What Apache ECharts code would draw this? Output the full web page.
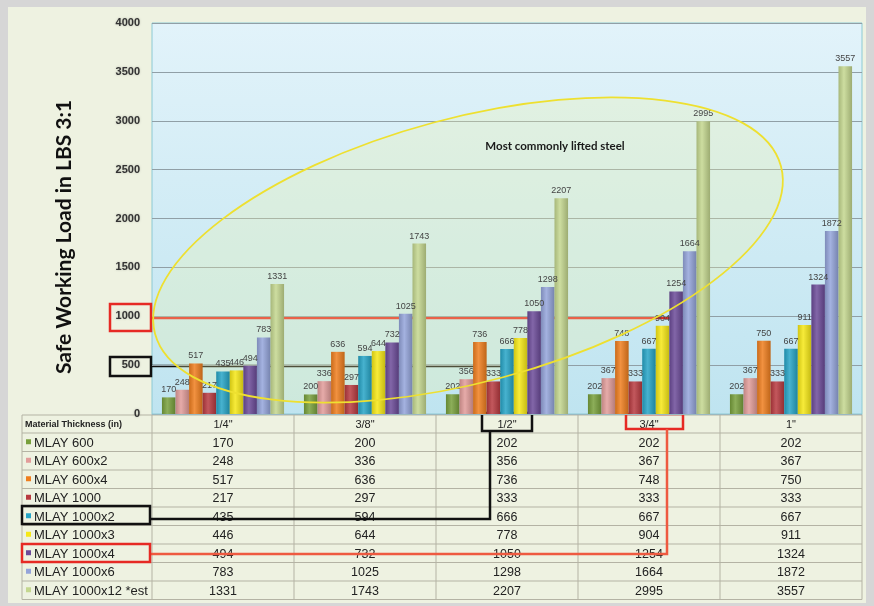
<!DOCTYPE html>
<html>
<head>
    <meta charset="utf-8">
    <title>Safe Working Load</title>
    <script src="https://cdn.jsdelivr.net/npm/echarts/dist/echarts.min.js"></script>
    <style>
        *{ margin: 0; padding: 0; }
        html,body{ width: 100%; height: 100%; overflow: hidden; background: #d6d6d6; }
        .container{ width: 874px; height: 606px; }
    </style>
</head>
<body>
<div class="container"></div>
<script>
    // thickness categories
    let categories = ['1/4"', '3/8"', '1/2"', '3/4"', '1"'];
    let seriesNames = ['MLAY 600', 'MLAY 600x2', 'MLAY 600x4', 'MLAY 1000', 'MLAY 1000x2',
        'MLAY 1000x3', 'MLAY 1000x4', 'MLAY 1000x6', 'MLAY 1000x12 *est'];
    let mlay600 = [170, 200, 202, 202, 202];
    let mlay600x2 = [248, 336, 356, 367, 367];
    let mlay600x4 = [517, 636, 736, 748, 750];
    let mlay1000 = [217, 297, 333, 333, 333];
    let mlay1000x2 = [435, 594, 666, 667, 667];
    let mlay1000x3 = [446, 644, 778, 904, 911];
    let mlay1000x4 = [494, 732, 1050, 1254, 1324];
    let mlay1000x6 = [783, 1025, 1298, 1664, 1872];
    let mlay1000x12 = [1331, 1743, 2207, 2995, 3557];
    let values = [mlay600, mlay600x2, mlay600x4, mlay1000, mlay1000x2, mlay1000x3, mlay1000x4, mlay1000x6, mlay1000x12];
    let colors = ['#78a03c', '#e29c9a', '#ef7e1e', '#b83a40', '#26a4c6', '#f6e816', '#6c4b99', '#94a4da', '#c4d78f'];

    // layout
    let W = 874, H = 606;
    let gridLeft = 152, gridRight = 12, gridTop = 23, gridBottom = 192;
    let plotW = W - gridLeft - gridRight;
    let colW = plotW / categories.length;
    let tableLeft = 22, headTop = 415, headH = 18, rowH = 18.5;

    function shade(hex, f) {
        let n = parseInt(hex.slice(1), 16);
        let r = (n >> 16) & 255, g = (n >> 8) & 255, b = n & 255;
        let m = c => Math.max(0, Math.min(255, Math.round(f > 0 ? c + (255 - c) * f : c * (1 + f))));
        return 'rgb(' + m(r) + ',' + m(g) + ',' + m(b) + ')';
    }

    let container = document.getElementsByClassName('container')[0];
    let chart = echarts.init(container);

    let series = seriesNames.map((name, i) => ({
        name: name,
        type: 'bar',
        data: values[i],
        barGap: '0%',
        barCategoryGap: '14%',
        itemStyle: {
            color: new echarts.graphic.LinearGradient(0, 0, 1, 0, [
                {offset: 0, color: shade(colors[i], -0.15)},
                {offset: 0.4, color: shade(colors[i], 0.15)},
                {offset: 1, color: shade(colors[i], -0.2)}
            ])
        },
        label: {
            show: true,
            position: 'top',
            distance: 3,
            fontSize: 9,
            fontFamily: 'Liberation Sans',
            color: '#444'
        },
        z: 3
    }));

    // table built from the data arrays
    let table = [];
    let tableRight = W - gridRight;
    let tableBottom = headTop + headH + rowH * seriesNames.length;
    for (let r = 0; r <= seriesNames.length + 1; r++) {
        let y = r === 0 ? headTop : headTop + headH + rowH * (r - 1);
        table.push({type: 'line', shape: {x1: tableLeft, y1: y, x2: tableRight, y2: y},
            style: {stroke: '#b4b3a4', lineWidth: 1}});
    }
    let vx = [tableLeft, gridLeft];
    categories.forEach((c, j) => vx.push(gridLeft + colW * (j + 1)));
    vx.forEach(x => table.push({type: 'line', shape: {x1: x, y1: headTop, x2: x, y2: tableBottom},
        style: {stroke: '#b4b3a4', lineWidth: 1}}));
    table.push({type: 'text', x: tableLeft + 3, y: headTop + headH / 2 + 1,
        style: {text: 'Material Thickness (in)', font: 'bold 9px Liberation Sans', fill: '#222', verticalAlign: 'middle'}});
    categories.forEach((c, j) => table.push({type: 'text', x: gridLeft + colW * (j + 0.5), y: headTop + headH / 2 + 1,
        style: {text: c, font: '11px Liberation Sans', fill: '#222', align: 'center', verticalAlign: 'middle'}}));
    seriesNames.forEach((name, i) => {
        let cy = headTop + headH + rowH * (i + 0.5);
        table.push({type: 'rect', shape: {x: tableLeft + 4, y: cy - 3, width: 5, height: 5}, style: {fill: colors[i]}});
        table.push({type: 'text', x: tableLeft + 12, y: cy + 1,
            style: {text: name, font: '13px Liberation Sans', fill: '#222', verticalAlign: 'middle'}});
        values[i].forEach((v, j) => table.push({type: 'text', x: gridLeft + colW * (j + 0.5), y: cy + 1,
            style: {text: String(v), font: '12.5px Liberation Sans', fill: '#222', align: 'center', verticalAlign: 'middle'}}));
    });

    // hand-drawn annotations
    let red = '#e62a24', redLow = '#ee5a40', black = '#111';
    let notes = [
        {type: 'rect', shape: {x: 110, y: 304, width: 41, height: 27}, style: {fill: null, stroke: red, lineWidth: 2.5}},
        {type: 'polyline', shape: {points: [[151, 318], [678, 318], [678, 414]]}, style: {fill: null, stroke: red, lineWidth: 2.5}},
        {type: 'rect', shape: {x: 626, y: 414, width: 57, height: 15}, style: {fill: null, stroke: red, lineWidth: 2.5}},
        {type: 'polyline', shape: {points: [[667, 429], [667, 554], [150, 554]]}, style: {fill: null, stroke: redLow, lineWidth: 2.5}},
        {type: 'rect', shape: {x: 22, y: 544, width: 128, height: 18}, style: {fill: null, stroke: red, lineWidth: 2.5}},
        {type: 'rect', shape: {x: 110, y: 357, width: 41, height: 19}, style: {fill: null, stroke: black, lineWidth: 2.5}},
        {type: 'polyline', shape: {points: [[151, 366], [507, 366], [507, 413]]}, style: {fill: null, stroke: black, lineWidth: 2.5}},
        {type: 'rect', shape: {x: 482, y: 413, width: 50, height: 18}, style: {fill: null, stroke: black, lineWidth: 2.5}},
        {type: 'polyline', shape: {points: [[490, 431], [490, 519], [150, 519]]}, style: {fill: null, stroke: black, lineWidth: 2.5}},
        {type: 'rect', shape: {x: 22, y: 506, width: 128, height: 18}, style: {fill: null, stroke: black, lineWidth: 2.5}}
    ];

    let option = {
        backgroundColor: '#d6d6d6',
        animation: false,
        grid: {
            left: gridLeft, right: gridRight, top: gridTop, bottom: gridBottom,
            show: true,
            borderColor: '#8ccad4',
            borderWidth: 1,
            backgroundColor: new echarts.graphic.LinearGradient(0, 0, 0, 1, [
                {offset: 0, color: '#e2f3fa'},
                {offset: 1, color: '#bfe4f0'}
            ])
        },
        xAxis: {
            type: 'category',
            data: categories,
            axisLabel: {show: false},
            axisTick: {show: false},
            axisLine: {lineStyle: {color: '#9ab8c0'}}
        },
        yAxis: {
            type: 'value',
            min: 0, max: 4000, interval: 500,
            axisLine: {show: false},
            axisTick: {show: false},
            axisLabel: {
                margin: 12,
                fontSize: 11,
                fontWeight: 'bold',
                fontFamily: 'Liberation Sans',
                color: '#333',
                formatter: v => String(v),
                textShadowColor: 'rgba(0,0,0,0.25)',
                textShadowBlur: 2
            },
            splitLine: {lineStyle: {color: '#909fa6', width: 1}}
        },
        graphic: [
            {type: 'rect', z: -10, shape: {x: 8, y: 7, width: 858, height: 596}, style: {fill: '#eef2e1'}},
            {type: 'ellipse', z: 1, x: 468, y: 250, rotation: 15 * Math.PI / 180,
                shape: {cx: 0, cy: 0, rx: 324, ry: 132},
                style: {fill: 'rgba(240,245,170,0.28)', stroke: null}},
            {type: 'ellipse', z: 10, x: 468, y: 250, rotation: 15 * Math.PI / 180,
                shape: {cx: 0, cy: 0, rx: 324, ry: 132},
                style: {fill: null, stroke: '#eee030', lineWidth: 1.8}},
            {type: 'text', z: 10, x: 555, y: 146,
                style: {text: 'Most commonly lifted steel', font: 'bold 11.5px Lato', fill: '#1a1a1a', align: 'center', verticalAlign: 'middle'}},
            {type: 'text', z: 10, x: 64, y: 237, rotation: Math.PI / 2,
                style: {text: 'Safe Working Load in LBS 3:1', font: 'bold 21px Lato', fill: '#111', align: 'center', verticalAlign: 'middle'}},
            {type: 'group', z: 5, children: table},
            {type: 'group', z: 20, children: notes}
        ],
        series
    };
    chart.setOption(option);
</script>
</body>
</html>
